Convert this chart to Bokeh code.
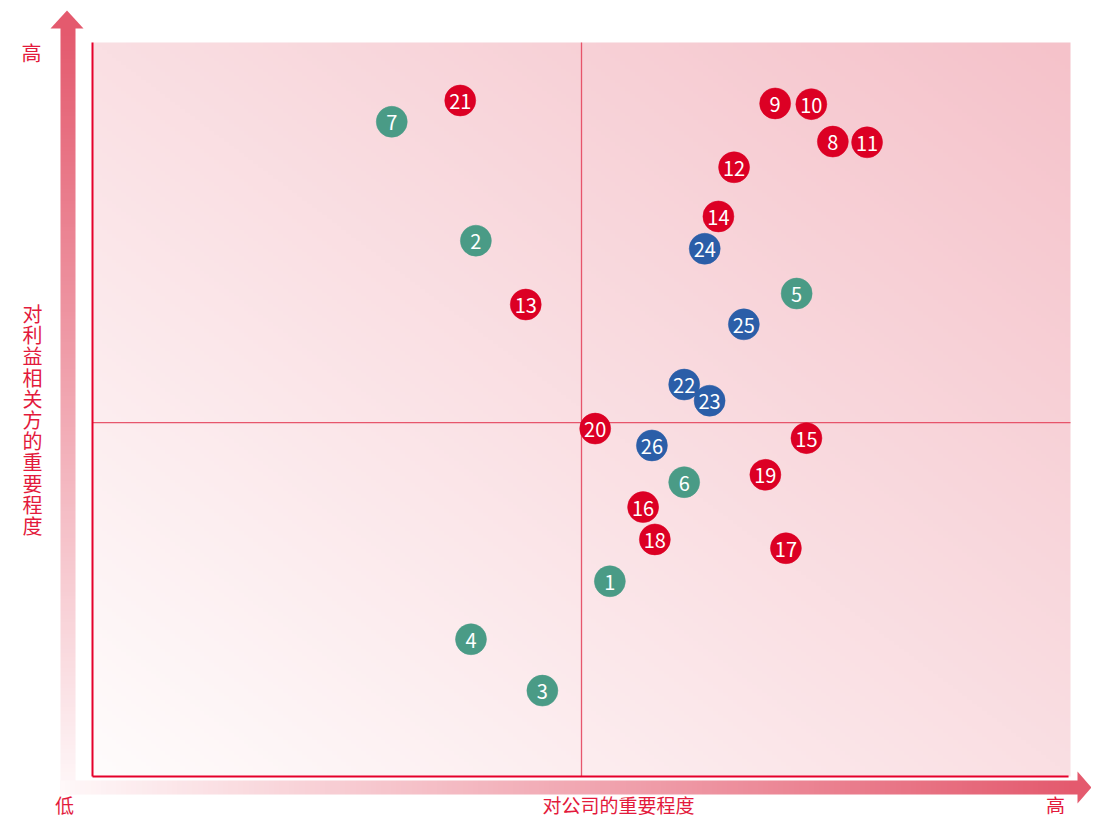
import numpy as np
from bokeh.plotting import figure
from bokeh.models import Range1d, ColumnDataSource
from bokeh.embed import file_html
from bokeh.resources import INLINE
from bokeh.core.properties import value

# ---------------- data ----------------
issue_ids = [str(i) for i in range(1, 27)]
company_importance = [5.29, 3.92, 4.60, 3.87, 7.20, 6.05, 3.06, 7.57, 6.98, 7.35,
                      7.92, 6.56, 4.43, 6.40, 7.30, 5.63, 7.09, 5.75, 6.88, 5.14,
                      3.76, 6.05, 6.31, 6.26, 6.66, 5.72]
stakeholder_importance = [2.66, 7.30, 1.17, 1.87, 6.58, 4.01, 8.92, 8.65, 9.17, 9.16,
                          8.64, 8.30, 6.43, 7.63, 4.61, 3.67, 3.11, 3.23, 4.11, 4.74,
                          9.21, 5.34, 5.12, 7.19, 6.16, 4.51]
issue_groups = ["E"] * 7 + ["S"] * 14 + ["G"] * 5
group_colors = {"E": "#4a9b86", "S": "#dc0024", "G": "#2b5ea8"}
x_threshold = 5.0
y_threshold = 4.82
axis_min, axis_max = 0.0, 10.0
x_title = "对公司的重要程度"
y_title = "对利益相关方的重要程度"
low_label, high_label = "低", "高"

# ---------------- layout helpers (canvas pixel -> data) ----------------
FX0, FX1 = 92.0, 1070.0   # px of x = 0 .. 10
FY0, FY1 = 776.0, 42.0    # px of y = 0 .. 10
def X(px):
    return axis_min + (px - FX0) * (axis_max - axis_min) / (FX1 - FX0)
def Y(py):
    return axis_min + (FY0 - py) * (axis_max - axis_min) / (FY0 - FY1)

W, H = 1091, 819
p = figure(width=W, height=H, output_backend="svg", toolbar_location=None,
           x_range=Range1d(X(0), X(W)), y_range=Range1d(Y(H), Y(0)),
           x_axis_location=None, y_axis_location=None, min_border=0,
           outline_line_color=None, background_fill_color="white",
           border_fill_color="white")
p.grid.visible = False

def rgba_img(rgb):
    h, w = rgb.shape[:2]
    img = np.empty((h, w), dtype=np.uint32)
    v = img.view(dtype=np.uint8).reshape((h, w, 4))
    v[:, :, 0] = rgb[:, :, 0]
    v[:, :, 1] = rgb[:, :, 1]
    v[:, :, 2] = rgb[:, :, 2]
    v[:, :, 3] = 255
    return img

# background gradient of plot area
N = 200
u = np.linspace(0, 1, N)
U, V = np.meshgrid(u, u)
T = (U + V) / 2
c0 = np.array([255, 252, 252.0]); c1 = np.array([245, 194, 202.0])
bg = c0[None, None, :] + (c1 - c0)[None, None, :] * T[:, :, None]
p.image_rgba(image=[rgba_img(bg.astype(np.uint8))], x=axis_min, y=axis_min,
             dw=axis_max - axis_min, dh=axis_max - axis_min)

# arrows
top_col = np.array([228, 90, 110.0]); end_col = np.array([255, 248, 249.0])
M = 200
t = np.linspace(0, 1, M)
vg = end_col[None, :] + (top_col - end_col)[None, :] * t[:, None]
vimg = vg[:, None, :].astype(np.uint8)
p.image_rgba(image=[rgba_img(vimg)], x=X(60), y=Y(794), dw=X(75) - X(60), dh=Y(27) - Y(794))
himg = vg[None, :, :].astype(np.uint8)
p.image_rgba(image=[rgba_img(himg)], x=X(60), y=Y(794), dw=X(1079) - X(60), dh=Y(780) - Y(794))
p.patch([X(50), X(83), X(66.5)], [Y(28), Y(28), Y(10)], color="#e45a6e", line_width=0)
p.patch([X(1077), X(1077), X(1091)], [Y(771), Y(803), Y(787)], color="#e45a6e", line_width=0)

# quadrant lines
p.segment(x0=[x_threshold, axis_min], y0=[axis_min, y_threshold],
          x1=[x_threshold, axis_max], y1=[axis_max, y_threshold],
          line_color="#e4465e", line_width=1.3, line_alpha=0.9)
# axis lines
p.segment(x0=[axis_min, axis_min], y0=[axis_min, axis_min],
          x1=[axis_min, axis_max - 0.02], y1=[axis_max, axis_min],
          line_color="#e5002b", line_width=2)

# points
src = ColumnDataSource(dict(x=company_importance, y=stakeholder_importance,
                            label=issue_ids,
                            color=[group_colors[g] for g in issue_groups]))
p.scatter("x", "y", source=src, size=31, fill_color="color", line_color="color",
          line_width=0.5)
p.text("x", "y", text="label", source=src, text_color="white",
       text_font=value("Noto Sans CJK SC"), text_font_size="20px",
       text_align="center", text_baseline="middle", y_offset=1)

# titles
txt_col = "#e31a3c"
tf = value("Noto Sans CJK SC")
p.text(x=[X(31)], y=[Y(52)], text=[high_label], text_color=txt_col,
       text_font=tf, text_font_size="20px", text_align="center", text_baseline="middle")
p.text(x=[X(64), X(1055), X(618)], y=[Y(804), Y(804), Y(804)],
       text=[low_label, high_label, x_title], text_color=txt_col,
       text_font=tf, text_font_size="19px", text_align="center", text_baseline="middle")
chars = list(y_title)
p.text(x=[X(32)] * len(chars), y=[Y(313 + i * 21.2) for i in range(len(chars))],
       text=chars, text_color=txt_col, text_font=tf, text_font_size="20px",
       text_align="center", text_baseline="middle")

open("out.html", "w").write(file_html(p, INLINE))
